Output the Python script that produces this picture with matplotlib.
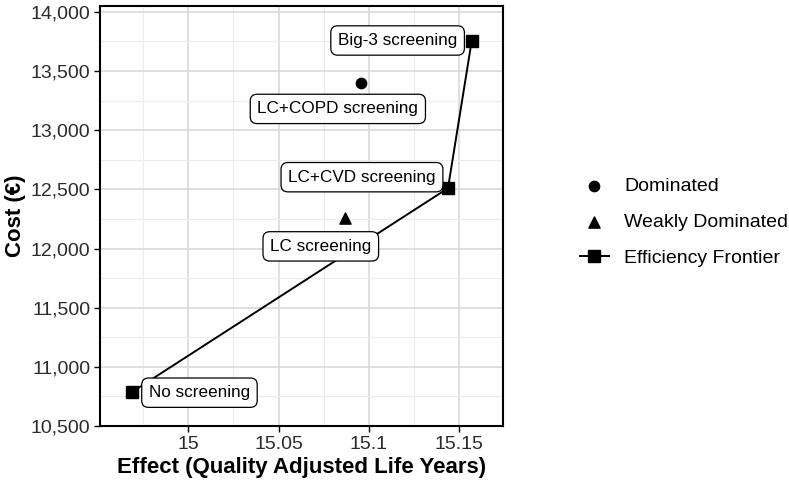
import matplotlib
matplotlib.use("Agg")
import numpy as np
from matplotlib import pyplot as plt
from matplotlib.ticker import FuncFormatter, MultipleLocator

plt.rcParams['font.family'] = ['Liberation Sans', 'DejaVu Sans']

# strategies on the efficiency frontier
frontier_names = ["No screening", "LC+CVD screening", "Big-3 screening"]
frontier_effect = [14.969, 15.1439, 15.157]
frontier_cost = [10790, 12510, 13750]

# dominated strategy
dominated_names = ["LC+COPD screening"]
dominated_effect = [15.0956]
dominated_cost = [13400]

# weakly dominated strategy
weak_names = ["LC screening"]
weak_effect = [15.0867]
weak_cost = [12255]

# label offsets in pixels from each point
offsets = {
    "No screening": (67, -1),
    "LC+CVD screening": (-86, 11),
    "Big-3 screening": (-74, 1),
    "LC+COPD screening": (-23, -26),
    "LC screening": (-24, -28),
}

fig = plt.figure(figsize=(7.89, 4.91), dpi=100)
ax = fig.add_axes([100 / 789, 1 - 426 / 491, 403 / 789, 420 / 491])

ax.set_xlim(14.951, 15.1744)
ax.set_ylim(10500, 14050)
ax.xaxis.set_major_locator(MultipleLocator(0.05))
ax.xaxis.set_minor_locator(MultipleLocator(0.025))
ax.yaxis.set_major_locator(MultipleLocator(500))
ax.yaxis.set_minor_locator(MultipleLocator(250))
ax.xaxis.set_major_formatter(FuncFormatter(lambda v, p: ('%.2f' % v).rstrip('0').rstrip('.')))
ax.yaxis.set_major_formatter(FuncFormatter(lambda v, p: '{:,.0f}'.format(v)))

ax.grid(which='major', color='#d6d6d6', linewidth=1.1)
ax.grid(which='minor', color='#ececec', linewidth=0.8)
ax.set_axisbelow(True)
ax.tick_params(which='major', length=4, width=1, color='black', labelsize=14, labelcolor='#2b2b2b', pad=3)
ax.tick_params(which='minor', length=0)
for s in ax.spines.values():
    s.set_linewidth(1.5)
    s.set_color('black')

ax.plot(frontier_effect, frontier_cost, color='black', lw=1.4, marker='s', ms=8,
        label='Efficiency Frontier', zorder=3)
ax.scatter(dominated_effect, dominated_cost, marker='o', s=55, color='black',
           label='Dominated', zorder=3)
ax.scatter(weak_effect, weak_cost, marker='^', s=65, color='black',
           label='Weakly Dominated', zorder=3)

box = dict(boxstyle='round,pad=0.42,rounding_size=0.4', fc='white', ec='black', lw=0.9)
all_pts = list(zip(frontier_names, frontier_effect, frontier_cost)) + \
    list(zip(dominated_names, dominated_effect, dominated_cost)) + \
    list(zip(weak_names, weak_effect, weak_cost))
for name, x, y in all_pts:
    dx, dy = offsets[name]
    ax.annotate(name, (x, y), xytext=(dx, dy), textcoords='offset pixels',
                ha='center', va='center', fontsize=12.3, bbox=box, zorder=4)

ax.set_xlabel('Effect (Quality Adjusted Life Years)', fontsize=16, fontweight='bold', labelpad=3)
ax.set_ylabel('Cost (€)', fontsize=16, fontweight='bold', labelpad=3)

handles, labels = ax.get_legend_handles_labels()
order = [1, 2, 0]
fig.legend([handles[i] for i in order], [labels[i] for i in order],
           loc='center left', bbox_to_anchor=(572 / 789, 1 - 222 / 491),
           frameon=False, fontsize=14, handlelength=1.5, labelspacing=0.95,
           handletextpad=0.8, borderpad=0.2, borderaxespad=0.2)

fig.savefig('out.png', dpi=100)
